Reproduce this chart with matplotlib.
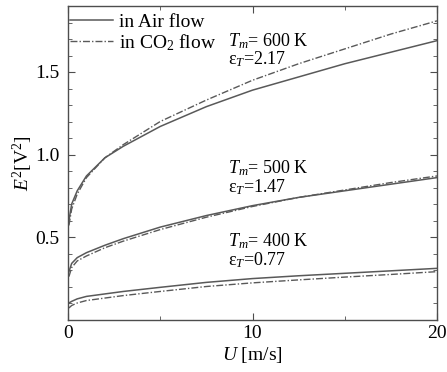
import matplotlib
matplotlib.use("Agg")
import matplotlib.pyplot as plt
from matplotlib.ticker import MultipleLocator

plt.rcParams['font.family'] = ['Liberation Serif', 'DejaVu Serif']
plt.rcParams['mathtext.fontset'] = 'custom'
plt.rcParams['mathtext.rm'] = 'Liberation Serif'
plt.rcParams['mathtext.it'] = 'Liberation Serif:italic'

# flow velocity U [m/s]
U = [0.05, 0.2, 0.5, 1, 2, 3, 5, 7.5, 10, 12.5, 15, 17.5, 20]

# E^2 [V^2]
air_600 = [0.60, 0.70, 0.78, 0.87, 0.98, 1.05, 1.17, 1.29, 1.39, 1.47, 1.55, 1.62, 1.69]
co2_600 = [0.57, 0.67, 0.76, 0.86, 0.98, 1.06, 1.20, 1.33, 1.45, 1.55, 1.64, 1.73, 1.81]
air_500 = [0.29, 0.34, 0.375, 0.405, 0.45, 0.49, 0.56, 0.63, 0.69, 0.74, 0.78, 0.82, 0.86]
co2_500 = [0.26, 0.315, 0.355, 0.385, 0.435, 0.475, 0.545, 0.62, 0.685, 0.74, 0.785, 0.83, 0.87]
air_400 = [0.10, 0.11, 0.125, 0.14, 0.155, 0.17, 0.195, 0.225, 0.248, 0.265, 0.28, 0.295, 0.31]
co2_400 = [0.07, 0.085, 0.10, 0.115, 0.13, 0.145, 0.17, 0.20, 0.222, 0.24, 0.257, 0.273, 0.29]

labels = [("$T_m$= 600 K", "ε$_T$=2.17", 1.69, 1.58),
          ("$T_m$= 500 K", "ε$_T$=1.47", 0.917, 0.805),
          ("$T_m$= 400 K", "ε$_T$=0.77", 0.476, 0.362)]

fig = plt.figure(figsize=(4.47, 3.72), dpi=100)
ax = fig.add_axes([68 / 447, 1 - 319.5 / 372, 369 / 447, 313.5 / 372])

col = '0.35'
dd = (5, 1.5, 1, 1.5)
ax.plot(U, air_600, color=col, lw=1.1, label='in Air flow')
ax.plot(U, co2_600, color=col, lw=1.0, dashes=dd, label='in CO$_2$ flow')
ax.plot(U, air_500, color=col, lw=1.1)
ax.plot(U, co2_500, color=col, lw=1.0, dashes=dd)
ax.plot(U, air_400, color=col, lw=1.1)
ax.plot(U, co2_400, color=col, lw=1.0, dashes=dd)

for t1, t2, y1, y2 in labels:
    ax.text(8.67, y1, t1, fontsize=13, va='center', ha='left')
    ax.text(8.67, y2, t2, fontsize=13, va='center', ha='left')

ax.set_xlim(0, 20)
ax.set_ylim(0, 1.9)
ax.set_xticks([0, 10, 20])
ax.set_yticks([0.5, 1.0, 1.5])
ax.xaxis.set_minor_locator(MultipleLocator(5))
ax.yaxis.set_minor_locator(MultipleLocator(0.1))
ax.tick_params(which='both', direction='in', top=True, right=True, labelsize=14, color='0.3')
ax.tick_params(which='major', length=5)
ax.tick_params(axis='x', which='major', pad=4)
ax.tick_params(axis='y', which='major', pad=6)
ax.tick_params(which='minor', length=3)
for s in ax.spines.values():
    s.set_color('0.3')
    s.set_linewidth(1.0)

ax.set_xlabel("$U$ [m/s]", fontsize=14, labelpad=2)
ax.set_ylabel("$E^2$[V$^2$]", fontsize=14, labelpad=0)

ax.legend(loc='upper left', bbox_to_anchor=(0.0, 0.982), frameon=False, fontsize=14,
          handlelength=2.2, handletextpad=0.3, labelspacing=0.05, borderpad=0.1,
          borderaxespad=0)

fig.savefig("out.png", dpi=100)
